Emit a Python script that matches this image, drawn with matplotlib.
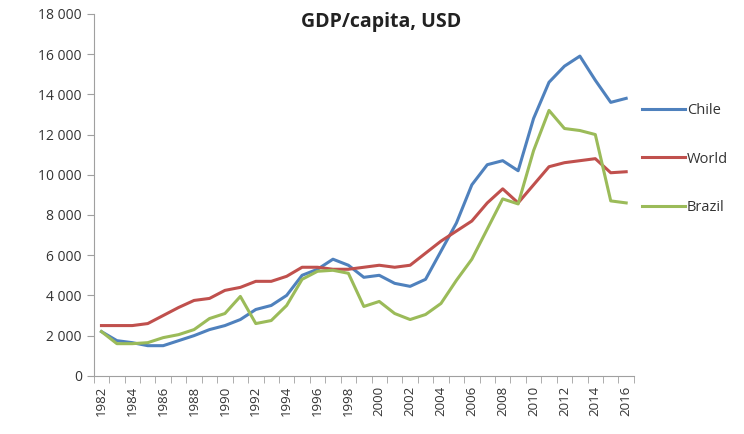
import numpy as np
import matplotlib.pyplot as plt
from matplotlib.ticker import FuncFormatter

years = list(range(1982, 2017))

chile = [2200, 1750, 1650, 1500, 1500, 1750, 2000, 2300, 2500, 2800,
         3300, 3500, 4000, 5000, 5300, 5800, 5500, 4900, 5000, 4600,
         4450, 4800, 6200, 7600, 9500, 10500, 10700, 10200, 12800, 14600,
         15400, 15900, 14700, 13600, 13800]

world = [2500, 2500, 2500, 2600, 3000, 3400, 3750, 3850, 4250, 4400,
         4700, 4700, 4950, 5400, 5400, 5300, 5300, 5400, 5500, 5400,
         5500, 6100, 6700, 7200, 7700, 8600, 9300, 8600, 9500, 10400,
         10600, 10700, 10800, 10100, 10150]

brazil = [2200, 1600, 1600, 1650, 1900, 2050, 2300, 2850, 3100, 3950,
          2600, 2750, 3500, 4800, 5200, 5250, 5100, 3450, 3700, 3100,
          2800, 3050, 3600, 4750, 5800, 7300, 8800, 8550, 11200, 13200,
          12300, 12200, 12000, 8700, 8600]

plt.rcParams['font.family'] = ['Open Sans', 'DejaVu Sans']

fig = plt.figure(figsize=(7.44, 4.34), dpi=100)
ax = fig.add_axes([0.126, 0.134, 0.726, 0.834])

x = np.arange(len(years))
ax.plot(x, chile, color='#4F81BD', lw=2.2, label='Chile')
ax.plot(x, world, color='#C0504D', lw=2.2, label='World')
ax.plot(x, brazil, color='#9BBB59', lw=2.2, label='Brazil')

ax.set_xlim(-0.5, len(years) - 0.5)
ax.set_ylim(0, 18000)
ax.set_yticks(range(0, 18001, 2000))
ax.yaxis.set_major_formatter(FuncFormatter(lambda v, p: f'{int(v):,}'.replace(',', ' ')))

ax.set_xticks(x[::2])
ax.set_xticklabels([str(y) for y in years[::2]], rotation=90)
ax.set_xticks(np.arange(-0.5, len(years), 1), minor=True)
ax.tick_params(axis='x', which='major', length=0, pad=7, labelsize=9.5, colors='#333333')
ax.tick_params(axis='x', which='minor', length=5, color='#A0A0A0', direction='out')
ax.tick_params(axis='y', length=5, color='#A0A0A0', labelsize=10, colors='#333333')

for s in ['top', 'right']:
    ax.spines[s].set_visible(False)
for s in ['left', 'bottom']:
    ax.spines[s].set_color('#A0A0A0')

fig.text(0.512, 0.950, 'GDP/capita, USD', fontsize=14, fontweight='bold',
         color='#222222', ha='center', va='center')

ax.legend(loc='upper left', bbox_to_anchor=(0.99, 0.79), frameon=False,
          fontsize=10.5, labelspacing=2.3, handlelength=3.0, handletextpad=0.1,
          labelcolor='#333333')

fig.savefig('out.png', dpi=100)
